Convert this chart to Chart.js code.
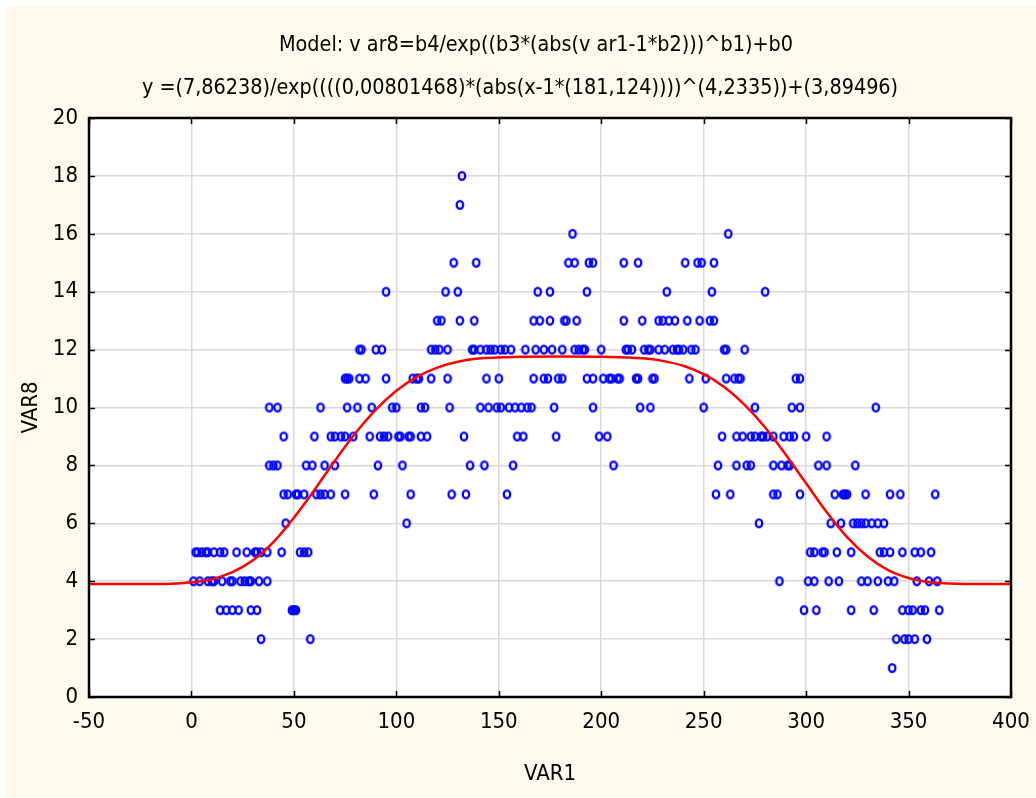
<!DOCTYPE html>
<html>
<head>
<meta charset="utf-8">
<script src="https://cdn.jsdelivr.net/npm/chart.js@4.4.1/dist/chart.umd.min.js"></script>
<style>
  html, body { margin: 0; padding: 0; background: #fff; }
  #grafico { display: block; }
</style>
</head>
<body>
<canvas id="grafico" width="1036" height="798"></canvas>
<script>
// textos del grafico
const titulo1 = "Model: v ar8=b4/exp((b3*(abs(v ar1-1*b2)))^b1)+b0"
const titulo2 = "y =(7,86238)/exp((((0,00801468)*(abs(x-1*(181,124))))^(4,2335))+(3,89496)"
const ejeX = "VAR1"
const ejeY = "VAR8"

// niveles de VAR8 y los valores de VAR1 observados en cada nivel
const niveles = [1, 2, 3, 4, 5, 6, 7, 8, 9, 10, 11, 12, 13, 14, 15, 16, 17, 18]
const var1PorNivel = [
  [342],
  [34, 58, 344, 348, 350, 353, 359],
  [14, 17, 20, 23, 29, 32, 49, 50, 51, 299, 305, 322, 333, 347, 350, 352, 356, 358, 365],
  [1, 4, 8, 10, 11, 15, 19, 20, 24, 26, 28, 29, 33, 37, 287, 301, 304, 311, 316, 327, 330, 335, 340, 343, 354, 360, 364],
  [2, 3, 5, 7, 8, 11, 14, 16, 22, 27, 31, 32, 34, 37, 44, 53, 55, 57, 302, 304, 308, 309, 315, 322, 336, 338, 341, 347, 353, 356, 361],
  [46, 105, 277, 312, 317, 323, 325, 327, 329, 332, 335, 338],
  [45, 47, 51, 52, 55, 61, 63, 65, 68, 75, 89, 107, 127, 134, 154, 256, 263, 284, 286, 297, 314, 318, 319, 320, 329, 341, 346, 363],
  [38, 40, 42, 56, 59, 65, 70, 91, 103, 136, 143, 157, 206, 257, 266, 271, 273, 284, 288, 291, 292, 306, 310, 324],
  [45, 60, 68, 70, 73, 75, 79, 87, 92, 94, 96, 101, 102, 106, 107, 112, 115, 133, 159, 162, 178, 199, 203, 259, 266, 269, 273, 275, 278, 279, 281, 284, 289, 292, 294, 300, 310],
  [38, 42, 63, 76, 81, 88, 98, 100, 112, 114, 126, 141, 145, 149, 151, 155, 158, 161, 164, 166, 177, 196, 219, 224, 250, 275, 293, 297, 334],
  [75, 76, 77, 82, 85, 95, 108, 110, 111, 117, 125, 144, 150, 167, 172, 174, 179, 181, 193, 196, 201, 204, 205, 208, 209, 217, 218, 225, 226, 243, 251, 261, 265, 267, 268, 295, 297],
  [82, 83, 90, 93, 117, 119, 121, 125, 137, 138, 141, 144, 146, 148, 151, 153, 156, 163, 168, 172, 176, 181, 187, 189, 191, 192, 200, 212, 213, 215, 221, 223, 224, 228, 231, 235, 237, 238, 240, 244, 246, 260, 261, 270],
  [120, 122, 131, 138, 167, 170, 175, 182, 183, 188, 211, 220, 228, 230, 233, 236, 242, 248, 253, 255],
  [95, 124, 130, 169, 175, 193, 232, 254, 280],
  [128, 139, 184, 187, 194, 196, 211, 218, 241, 247, 249, 255],
  [186, 262],
  [131],
  [132]
]

// curva ajustada
const curvaX = [-50, -25, -10, 0, 10, 20, 30, 40, 50, 60, 70, 80, 90, 100, 110, 120, 130, 140, 160, 181, 200, 220, 230, 240, 250, 260, 270, 280, 290, 300, 310, 320, 330, 340, 350, 360, 370, 385, 400]
const curvaY = [3.90, 3.90, 3.91, 3.96, 4.07, 4.31, 4.72, 5.35, 6.19, 7.15, 8.16, 9.11, 9.93, 10.58, 11.06, 11.38, 11.58, 11.69, 11.75, 11.76, 11.75, 11.70, 11.61, 11.44, 11.15, 10.71, 10.09, 9.31, 8.38, 7.38, 6.39, 5.52, 4.85, 4.38, 4.11, 3.97, 3.92, 3.90, 3.90]

// ejes
const ticksX = [-50, 0, 50, 100, 150, 200, 250, 300, 350, 400]
const ticksY = [0, 2, 4, 6, 8, 10, 12, 14, 16, 18, 20]

const fuente = '"Liberation Sans Narrow", "Arial Narrow", "DejaVu Sans Condensed", "Liberation Sans", Arial, sans-serif'

let puntos = []
niveles.forEach((nivel, i) => {
  var1PorNivel[i].forEach((v) => {
    puntos.push({ x: v, y: nivel })
  })
})

let curva = curvaX.map((x, i) => ({ x: x, y: curvaY[i] }))

// marcador "o" un poco alargado, como en el original
const marcador = document.createElement("canvas")
marcador.width = 10
marcador.height = 12
const mc = marcador.getContext("2d")
mc.strokeStyle = "#0000ff"
mc.lineWidth = 2.3
mc.beginPath()
mc.ellipse(5, 6, 3.2, 3.9, 0, 0, Math.PI * 2)
mc.stroke()

// fondo crema y area blanca
const fondo = {
  id: "fondo",
  beforeDraw: (chart) => {
    const c = chart.ctx
    const a = chart.chartArea
    c.save()
    c.fillStyle = "#ffffff"
    c.fillRect(0, 0, chart.width, chart.height)
    c.fillStyle = "#fdf9ef"
    c.fillRect(6, 6, chart.width - 6, chart.height - 6)
    c.fillStyle = "#ffffff"
    c.fillRect(a.left, a.top, a.right - a.left, a.bottom - a.top)
    c.restore()
  }
}

// titulos de dos lineas
const titulos = {
  id: "titulos",
  afterDraw: (chart) => {
    const c = chart.ctx
    c.save()
    c.fillStyle = "#000000"
    c.font = "21.4px " + fuente
    c.textAlign = "center"
    c.textBaseline = "middle"
    c.fillText(titulo1, 536, 45)
    c.fillText(titulo2, 520, 88)
    c.restore()
  }
}

// marco negro y marcas hacia dentro
const marco = {
  id: "marco",
  afterDraw: (chart) => {
    const c = chart.ctx
    const a = chart.chartArea
    const sx = chart.scales.x
    const sy = chart.scales.y
    c.save()
    c.strokeStyle = "#000000"
    c.lineWidth = 1.5
    c.beginPath()
    ticksX.forEach((t) => {
      const px = Math.round(sx.getPixelForValue(t)) + 0.5
      c.moveTo(px, a.bottom); c.lineTo(px, a.bottom - 6)
      c.moveTo(px, a.top); c.lineTo(px, a.top + 6)
    })
    ticksY.forEach((t) => {
      const py = Math.round(sy.getPixelForValue(t)) + 0.5
      c.moveTo(a.left, py); c.lineTo(a.left + 6, py)
      c.moveTo(a.right, py); c.lineTo(a.right - 6, py)
    })
    c.stroke()
    c.lineWidth = 2.5
    c.strokeRect(a.left, a.top, a.right - a.left, a.bottom - a.top)
    c.restore()
  }
}

const lienzo = document.getElementById("grafico")

new Chart(lienzo, {
  type: "scatter",
  data: {
    datasets: [
      {
        label: "curva",
        type: "line",
        data: curva,
        showLine: true,
        borderColor: "#ff0000",
        borderWidth: 2.5,
        pointRadius: 0,
        fill: false,
        cubicInterpolationMode: "monotone",
        order: 0,
      },
      {
        label: ejeY,
        data: puntos,
        pointStyle: marcador,
        pointRadius: 4,
        borderColor: "#0000ff",
        backgroundColor: "rgba(0,0,0,0)",
        order: 1,
      },
    ],
  },
  options: {
    responsive: false,
    animation: false,
    layout: { padding: { left: 0, right: 25, top: 118, bottom: 0 } },
    plugins: {
      legend: { display: false },
      tooltip: { enabled: false },
      title: { display: false },
    },
    scales: {
      x: {
        type: "linear",
        min: -50,
        max: 400,
        afterBuildTicks: (s) => { s.ticks = ticksX.map((v) => ({ value: v })) },
        afterFit: (s) => { s.height = 101; s.paddingLeft = 0; s.paddingRight = 0 },
        ticks: { color: "#000000", padding: 12, maxRotation: 0, font: { family: fuente, size: 22 } },
        grid: { color: "#d9d9d9", lineWidth: 1.5, drawTicks: false },
        border: { display: false },
        title: { display: true, text: ejeX, color: "#000000", padding: { top: 0, bottom: 11 }, font: { family: fuente, size: 22 } },
      },
      y: {
        min: 0,
        max: 20,
        afterBuildTicks: (s) => { s.ticks = ticksY.map((v) => ({ value: v })) },
        afterFit: (s) => { s.width = 89; s.paddingTop = 0; s.paddingBottom = 0 },
        ticks: { color: "#000000", padding: 11, font: { family: fuente, size: 22 } },
        grid: { color: "#d9d9d9", lineWidth: 1.5, drawTicks: false },
        border: { display: false },
        title: { display: true, text: ejeY, color: "#000000", padding: { top: 18, bottom: 0 }, font: { family: fuente, size: 22 } },
      },
    },
  },
  plugins: [fondo, titulos, marco],
})
</script>
</body>
</html>
